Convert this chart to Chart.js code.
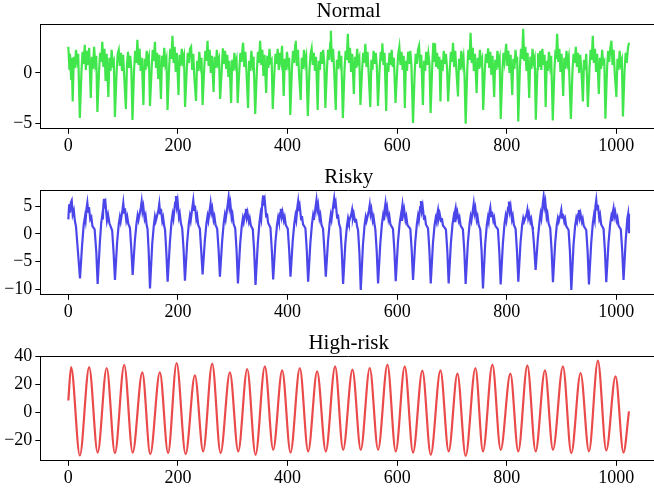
<!DOCTYPE html>
<html>
<head>
<meta charset="utf-8">
<script src="https://cdn.jsdelivr.net/npm/chart.js@4.4.1/dist/chart.umd.min.js"></script>
<style>
  html, body { margin: 0; padding: 0; background: #fff; width: 654px; height: 489px; overflow: hidden; position: relative; }
  canvas { position: absolute; left: 0; }
</style>
</head>
<body>
<canvas id="panelNormal" width="660" height="159" style="top:0px"></canvas>
<canvas id="panelRisky" width="660" height="159" style="top:166px"></canvas>
<canvas id="panelHigh" width="660" height="159" style="top:332px"></canvas>
<script>
// Sample index on x, signal amplitude on y, one series per panel.
const panelTitles = ['Normal', 'Risky', 'High-risk'];
const xTickValues = [0, 200, 400, 600, 800, 1000];
const normalYTicks = [-5, 0];
const riskyYTicks = [-10, -5, 0, 5];
const highRiskYTicks = [-20, 0, 20, 40];

const normalPoints = [
  [0,2.6],[2,0.4],[3,1.9],[5,-0.6],[6,1.5],[8,-2.85],[10,1.6],[12,0.5],[14,2.3],[16,1.2],[18,1.9],[21,-4.5],
  [24,0.2],[26,2.1],[28,0.9],[30,2.8],[32,0.3],[34,2.2],[36,0.8],[38,2.5],[41,-2.5],[43,1.6],[45,0.4],[47,2.6],[49,1.0],[51,1.7],[53,-3.9],
  [56,0.1],[58,2.0],[60,1.1],[62,3.1],[64,0.6],[66,2.4],[68,-0.8],[70,1.9],[73,-2.4],[75,1.5],[77,0.2],[79,2.3],[81,0.9],[83,1.2],[85,-4.4],
  [88,0.0],[90,1.9],[92,2.3],[94,0.7],[96,2.0],[98,0.2],[100,1.8],[102,-0.4],[105,-3.6],[107,0.9],[109,2.1],[111,0.5],[113,1.7],[115,0.3],[117,-4.7],
  [120,0.3],[122,2.2],[124,1.0],[126,3.3],[128,0.8],[130,2.4],[132,0.2],[134,1.5],[137,-3.2],[139,1.4],[141,0.3],[143,2.2],[145,1.1],[147,1.6],[149,-3.3],
  [152,0.4],[154,2.3],[156,1.2],[158,3.1],[160,0.5],[162,2.0],[164,-0.6],[166,1.8],[169,-2.6],[171,1.7],[173,0.6],[175,2.5],[177,0.9],[179,1.4],[181,-3.7],
  [184,0.6],[186,2.4],[188,1.4],[190,3.7],[192,1.0],[194,2.6],[196,0.1],[198,2.0],[201,-2.2],[203,1.8],[205,0.7],[207,2.4],[209,1.2],[211,1.7],[213,-3.4],
  [216,0.2],[218,2.0],[220,1.0],[222,2.4],[224,2.6],[226,0.3],[228,1.9],[230,-0.5],[233,-2.8],[235,1.2],[237,0.2],[239,2.1],[241,0.8],[243,1.5],[245,-3.2],
  [248,0.5],[250,2.2],[252,1.2],[254,3.2],[256,0.7],[258,2.3],[260,0.0],[262,1.7],[265,-1.9],[267,1.6],[269,0.5],[271,2.3],[273,1.0],[275,1.4],[277,-2.6],
  [280,0.4],[282,2.45],[284,0.9],[286,2.2],[288,0.4],[290,1.8],[292,-0.4],[294,1.2],[297,-3.0],[299,1.3],[301,0.2],[303,2.0],[305,0.8],[307,1.3],[309,-3.0],
  [312,0.3],[314,2.0],[316,1.1],[318,2.6],[319,3.0],[321,0.6],[323,2.1],[325,0.2],[328,-3.5],[330,1.2],[332,0.2],[334,2.2],[336,0.9],[338,1.6],[341,-4.1],
  [344,0.2],[346,2.1],[348,1.0],[350,3.2],[352,0.8],[354,2.3],[356,-0.3],[358,1.8],[361,-2.0],[363,1.7],[365,0.5],[367,2.4],[369,1.1],[371,1.3],[373,-3.6],
  [376,0.1],[378,1.9],[380,0.9],[382,2.4],[384,0.3],[386,2.0],[388,1.2],[390,2.7],[393,-2.3],[395,1.4],[397,0.3],[399,2.1],[401,0.9],[403,1.5],[405,-4.2],
  [408,0.4],[410,2.2],[412,1.0],[414,2.8],[415,3.2],[417,0.7],[419,2.3],[421,-0.2],[424,-2.7],[426,1.5],[428,0.4],[430,2.3],[432,1.0],[434,1.6],[437,-4.3],
  [440,0.3],[442,1.9],[444,2.45],[446,0.8],[448,2.0],[450,0.2],[452,1.6],[455,-3.7],[457,1.2],[459,0.3],[461,2.1],[463,0.9],[465,2.3],[467,1.0],[469,-3.5],
  [472,0.5],[474,2.3],[476,1.3],[478,3.0],[479,4.2],[481,1.1],[483,2.4],[485,0.3],[488,-3.7],[490,1.3],[492,0.4],[494,2.2],[496,1.0],[498,1.7],[501,-4.5],
  [504,0.4],[506,2.2],[508,1.3],[510,3.9],[512,1.0],[514,2.5],[516,0.1],[518,1.9],[521,-2.1],[523,1.6],[525,0.5],[527,2.4],[529,1.1],[531,1.5],[533,-3.2],
  [536,0.3],[538,2.0],[540,1.0],[542,2.9],[544,0.6],[546,2.1],[548,0.0],[551,-3.4],[553,1.3],[555,0.3],[557,2.2],[559,0.9],[561,2.0],[563,0.6],[565,-3.3],
  [568,0.4],[570,2.1],[572,1.2],[573,2.95],[575,0.8],[577,2.0],[580,-3.8],[582,1.0],[584,0.1],[586,2.0],[588,0.8],[590,2.3],[592,0.6],[594,1.5],[597,-3.0],
  [600,0.2],[602,1.9],[604,2.6],[606,0.8],[608,2.1],[610,0.3],[612,1.7],[614,-3.5],[616,1.2],[618,0.2],[620,2.1],[622,0.9],[624,2.2],[626,0.8],[629,-5.0],
  [632,0.1],[634,1.9],[636,0.9],[638,2.3],[640,2.7],[642,0.5],[644,1.8],[647,-3.2],[649,1.2],[651,0.2],[653,2.1],[655,0.8],[657,1.9],[659,0.9],[661,-4.0],
  [664,0.6],[666,3.0],[668,1.2],[669,2.95],[671,0.6],[673,2.0],[675,0.4],[677,1.6],[679,-2.85],[681,1.3],[683,0.2],[685,2.2],[687,0.9],[689,1.9],[691,0.5],[693,-2.85],
  [696,0.3],[698,2.1],[700,1.1],[702,3.0],[704,0.6],[706,2.2],[708,0.3],[711,-2.35],[713,1.4],[715,0.3],[717,2.2],[719,0.9],[721,1.6],[723,-0.4],[725,-5.07],
  [728,0.5],[730,2.3],[732,1.3],[734,4.0],[736,1.0],[738,2.5],[740,0.2],[742,1.9],[745,-2.0],[747,1.5],[749,0.4],[751,2.3],[753,1.0],[755,1.4],[757,-3.7],
  [760,0.3],[762,1.9],[764,1.0],[766,2.45],[768,0.5],[770,2.1],[772,-0.2],[774,1.7],[777,-2.4],[779,1.3],[781,0.3],[783,2.2],[785,1.0],[787,1.5],[789,-4.6],
  [792,0.2],[794,2.0],[796,1.1],[799,2.9],[801,0.7],[803,2.2],[805,0.0],[807,1.8],[810,-2.2],[812,1.4],[814,0.4],[816,2.3],[818,1.0],[819,1.6],[821,-4.84],
  [824,0.6],[826,2.4],[828,1.4],[830,4.4],[832,1.2],[834,2.6],[836,0.2],[838,2.0],[841,-2.5],[843,1.6],[845,0.4],[847,2.4],[849,1.1],[851,1.5],[853,-4.67],
  [856,0.4],[857,1.95],[859,0.6],[861,2.2],[863,0.3],[865,2.4],[867,0.8],[869,1.8],[871,-3.4],[873,1.2],[875,0.2],[877,2.1],[879,0.8],[881,1.7],[884,-4.74],
  [887,0.4],[889,2.3],[890,1.4],[892,3.9],[894,1.1],[896,2.4],[898,0.1],[900,1.9],[903,-2.3],[905,1.5],[907,0.4],[909,2.2],[911,1.0],[913,1.6],[917,-4.6],
  [920,0.3],[922,1.9],[924,1.0],[926,2.6],[928,0.6],[930,2.0],[932,0.0],[934,1.8],[936,0.5],[939,-2.85],[941,1.3],[943,0.3],[945,1.9],[948,-3.4],
  [951,0.5],[953,2.3],[955,1.3],[957,3.7],[959,1.0],[961,2.4],[963,0.1],[965,1.9],[968,-2.1],[970,1.5],[972,0.4],[974,2.3],[976,1.0],[978,1.2],[980,-4.57],
  [983,0.4],[985,2.2],[987,1.1],[989,2.5],[991,3.2],[993,0.8],[995,2.3],[997,0.0],[1000,-2.4],[1002,1.4],[1004,0.3],[1006,2.2],[1008,0.9],[1010,1.3],[1012,-4.34],
  [1015,0.3],[1017,2.0],[1019,1.0],[1021,2.4],[1023,3.0]
];

const riskyPoints = [
  [0,2.6],[1.5,5.3],[3,3.8],[4.5,5.6],[6.2,6.0],[8,3.5],[10,4.2],[12,2.3],[14,1.3],[17,-2.5],
  [21.3,-8.0],[25,-2.2],[28,1.6],[30.4,3.1],[31.5,2.4],[33.2,4.6],[34.7,5.6],[36.2,4.0],[37.7,4.8],[40,2.6],[42,3.0],[44,1.4],[48,0.8],[51,-3.2],
  [53.5,-9.0],[57.5,-1.6],[60,2.0],[62,3.4],[63,2.6],[64,5.2],[65.1,6.3],[66.6,4.6],[68,5.3],[70.5,2.4],[72.5,3.4],[75,1.9],[80,0.6],[82.6,-3.4],
  [85.1,-8.3],[89,-1.5],[92,1.7],[94,3.0],[95.5,2.2],[98.8,4.3],[100.3,5.5],[101.8,3.8],[103.3,4.6],[105.8,2.4],[107.5,3.1],[109.5,1.8],[112.4,1.1],[114.9,-2.6],
  [117.4,-7.4],[121.4,-1.2],[124.4,1.9],[126.4,3.3],[128,2.5],[132.3,4.7],[133.8,5.8],[135.3,4.1],[136.8,4.9],[139.3,2.7],[141,3.3],[143,1.5],[144.5,0.9],[146.5,-2.9],
  [149,-9.8],[153,-1.9],[156,1.5],[158,3.1],[159.5,2.3],[164.5,4.3],[166,5.4],[167.5,3.7],[169,4.5],[171.5,2.3],[173,2.9],[175,1.4],[176.5,0.7],[178.7,-3.1],
  [181.2,-8.6],[185.2,-1.7],[188.2,2.1],[190.2,3.5],[191.7,2.7],[194.9,5.6],[196.4,6.8],[197.9,5.0],[199.4,5.9],[201.9,3.0],[203.4,3.6],[205.4,1.9],[207.8,1.0],[210.3,-2.8],
  [212.8,-8.4],[216.8,-1.6],[219.8,1.8],[221.8,3.2],[223.3,2.4],[226.5,4.9],[228,6.0],[229.5,4.3],[231,5.1],[233.5,2.7],[235,3.3],[237,1.6],[240,0.9],[242.5,-3.0],
  [245,-7.3],[249,-1.3],[252,1.9],[254,3.2],[255.5,2.4],[258.1,4.4],[259.6,5.5],[261.1,3.9],[262.6,4.6],[265.1,2.5],[266.6,3.1],[268.6,1.6],[271.6,0.9],[274.1,-2.7],
  [276.6,-7.7],[280.6,-1.4],[283.6,2.0],[285.6,3.4],[287.1,2.6],[291,5.4],[292.5,6.6],[294,4.8],[295.5,5.6],[298,2.9],[299.5,3.5],[301.5,1.8],[304.5,1.0],[307,-3.0],
  [309.5,-8.9],[313.5,-1.8],[316.5,1.5],[318.5,2.8],[320,2.1],[322.5,3.6],[324,4.5],[325.5,3.0],[327,3.8],[329.5,2.2],[331,2.8],[333,1.5],[336.6,0.8],[339.1,-3.1],
  [341.6,-9.2],[345.6,-1.9],[348.6,1.9],[350.6,3.5],[352,2.7],[354,5.6],[355.5,6.9],[357,5.1],[358.5,5.9],[361,3.1],[362.5,3.7],[364.5,2.0],[368.8,1.1],[371.3,-2.9],
  [373.8,-8.2],[377.8,-1.6],[380.8,1.6],[382.8,2.9],[384.3,2.2],[386.3,3.7],[387.8,4.5],[389.3,3.1],[390.8,3.9],[393.3,2.4],[394.8,3.0],[396.8,1.6],[400.4,0.9],[402.9,-2.8],
  [405.4,-7.7],[409.4,-1.3],[412.4,1.9],[414.4,3.3],[415.9,2.5],[417.8,4.7],[419.3,5.8],[420.8,4.1],[422.3,4.9],[424.8,2.6],[426.3,3.2],[428.3,1.7],[432.6,1.0],[435.1,-2.9],
  [437.6,-8.6],[441.6,-1.7],[444.6,1.8],[446.6,3.3],[448.1,2.5],[451.3,5.0],[452.8,6.1],[454.3,4.4],[455.8,5.2],[458.3,2.8],[459.8,3.4],[461.8,1.7],[464.8,0.9],[467.3,-3.0],
  [469.8,-7.7],[473.8,-1.4],[476.8,1.9],[478.8,3.4],[480.3,2.6],[483.5,5.2],[485,6.3],[486.5,4.6],[488,5.4],[490.5,2.9],[492,3.5],[494,1.8],[496.4,1.0],[498.9,-3.0],
  [501.4,-9.0],[505.4,-1.8],[508.4,1.5],[510.4,2.8],[511.9,2.1],[516.3,3.5],[517.8,4.3],[519.3,2.9],[520.8,3.6],[523.3,2.2],[524.8,2.7],[526.8,1.4],[528.6,0.7],[531.1,-3.3],
  [533.6,-10.1],[537.6,-2.0],[540.6,1.6],[542.6,3.0],[544.1,2.3],[548.5,4.2],[550,5.2],[551.5,3.6],[553,4.4],[555.5,2.4],[557,3.0],[559,1.5],[560.2,0.8],[562.7,-3.1],
  [565.2,-8.9],[569.2,-1.8],[572.2,1.8],[574.2,3.2],[575.7,2.4],[577.2,4.4],[578.7,5.5],[580.2,3.9],[581.7,4.7],[584.2,2.6],[585.7,3.2],[587.7,1.7],[592.4,0.9],[594.9,-2.9],
  [597.4,-8.5],[601.4,-1.6],[604.4,1.8],[606.4,3.1],[607.5,2.5],[608.4,4.2],[609.7,5.2],[611.2,3.6],[612.7,4.4],[615.2,2.5],[616.7,3.1],[618.7,1.6],[624,0.9],[626.5,-2.8],
  [629,-8.3],[633,-1.5],[636,1.8],[638,3.2],[639.5,2.4],[642,4.8],[643.5,5.9],[645,4.2],[646.5,5.0],[649,2.7],[650.5,3.3],[652.5,1.7],[656.3,1.0],[658.8,-2.9],
  [661.3,-8.9],[665.3,-1.7],[668.3,1.6],[670.3,2.8],[671.8,2.2],[673.1,3.5],[674.6,4.3],[676.1,2.9],[677.6,3.6],[680.1,2.3],[681.6,2.8],[683.6,1.5],[689,0.8],[691.5,-3.0],
  [694,-8.9],[698,-1.7],[701,1.7],[703,3.0],[704.3,2.3],[705.3,3.8],[706.8,4.6],[708.3,3.2],[709.8,3.9],[712.3,2.4],[713.8,2.9],[715.8,1.5],[720,0.8],[722.5,-3.0],
  [725,-9.0],[729,-1.7],[732,1.7],[734,3.1],[735.5,2.4],[738.2,4.3],[739.7,5.4],[741.2,3.8],[742.7,4.6],[745.2,2.5],[746.7,3.1],[748.7,1.6],[751.6,0.8],[754.1,-3.1],
  [756.6,-9.8],[760.6,-1.9],[763.6,1.6],[765.6,2.9],[767,2.2],[768.5,3.9],[770,4.7],[771.5,3.2],[773,4.0],[775.5,2.4],[777,2.9],[779,1.5],[783.9,0.8],[786.4,-3.2],
  [788.9,-9.1],[792.9,-1.8],[795.9,1.8],[797.9,3.2],[799.4,2.4],[802.5,4.7],[804,5.8],[805.5,4.1],[807,4.9],[809.5,2.6],[811,3.2],[813,1.6],[816.1,0.9],[818.6,-3.0],
  [821.1,-8.6],[825.1,-1.6],[828.1,1.6],[830.1,2.8],[831.6,2.2],[836.1,3.5],[837.6,4.3],[839.1,2.9],[840.6,3.6],[843.1,2.2],[844.6,2.7],[846.6,1.3],[847.7,0.6],[850.2,-2.6],
  [852.7,-6.5],[856.7,-0.9],[859.7,2.1],[861.7,3.6],[863.2,2.8],[865.8,5.5],[867.3,6.7],[868.8,5.0],[870.3,5.8],[872.8,3.0],[874.3,3.6],[876.3,1.9],[879.3,1.0],[881.8,-2.9],
  [884.3,-8.7],[888.3,-1.7],[891.3,1.6],[893.3,2.8],[894.8,2.2],[898,3.5],[899.5,4.3],[901,2.9],[902.5,3.6],[905,2.2],[906.5,2.7],[908.5,1.4],[912.8,0.7],[915.3,-3.2],
  [917.8,-10.1],[921.8,-2.0],[924.8,1.5],[926.8,2.8],[928.3,2.2],[930.1,3.5],[931.6,4.3],[933.1,2.9],[934.6,3.6],[937.1,2.2],[938.6,2.7],[940.6,1.4],[945,0.7],[947.5,-3.1],
  [950,-9.1],[954,-1.8],[957,1.9],[959,3.3],[960.5,2.5],[961.8,5.0],[963.3,6.1],[964.8,4.4],[966.3,5.2],[968.8,2.8],[970.3,3.4],[972.3,1.7],[976.6,0.9],[979.1,-3.0],
  [981.6,-8.7],[985.6,-1.7],[988.6,1.7],[990.6,3.0],[992,2.3],[993.4,3.8],[994.9,4.6],[996.4,3.2],[997.9,3.9],[1000.4,2.4],[1001.9,2.9],[1003.9,1.5],[1008.1,0.8],[1010.6,-2.9],
  [1013.1,-8.3],[1017,-1.2],[1020,2.8],[1021.5,3.6],[1023,0.1]
];

// Crests and troughs of the high-risk oscillation.
const highRiskPoints = [
  [0,8.6],[5,32.6],[21,-30.9],[38,32.6],[53.5,-28.8],[70,31.9],[85,-29.2],[102,34.1],[117.4,-28.8],
  [135,28.8],[149.5,-30.0],[167,28.8],[182,-29.2],[197.6,35.5],[214,-30.0],[231,26.6],[246,-28.0],
  [262.5,35.0],[277.8,-29.2],[294.8,28.8],[310,-28.0],[326.4,31.2],[341.6,-30.4],[358.6,33.1],[373.8,-26.8],
  [390.2,30.2],[405.4,-28.8],[422.4,31.9],[437.6,-28.0],[454,29.5],[469.8,-28.0],[486.8,33.1],[501.4,-26.8],
  [518.5,30.7],[533.6,-26.8],[550,31.9],[565.2,-26.8],[582.3,34.3],[597.4,-28.0],[613.9,33.1],[629,-28.8],
  [646,30.0],[661.3,-30.4],[679,30.2],[694,-28.0],[710,27.8],[725,-31.2],[742.8,31.9],[756.6,-28.0],
  [773.8,34.3],[788.9,-26.8],[806.6,27.8],[821,-28.0],[837.6,33.8],[852.7,-28.0],[869.7,30.2],[884.3,-26.8],
  [902.5,33.1],[917.8,-29.2],[934.7,28.3],[950,-28.0],[966.3,37.2],[981.6,-27.3],[998.5,25.9],[1013,-28.8],
  [1023,0.7]
];

const SERIF = "'Liberation Serif', 'Times New Roman', serif";
const INK = '#000';

function formatTick(v) {
  return v < 0 ? '\u2212' + Math.abs(v) : String(v);
}

// Upper and right spines of the axes box.
const boxFrame = {
  id: 'boxFrame',
  afterDraw(chart) {
    const { ctx, chartArea: a } = chart;
    ctx.save();
    ctx.strokeStyle = INK;
    ctx.lineWidth = 1;
    ctx.beginPath();
    const top = Math.round(a.top) + 0.5;
    ctx.moveTo(a.left, top);
    ctx.lineTo(a.right, top);
    ctx.lineTo(a.right, a.bottom);
    ctx.stroke();
    ctx.restore();
  }
};

function axisStyle() {
  return {
    grid: { drawOnChartArea: false, drawTicks: true, tickLength: 5, tickColor: INK, tickWidth: 1 },
    border: { display: true, color: INK, width: 1 }
  };
}

function makePanel(canvasId, title, points, color, yMin, yMax, yTicks, smooth) {
  const ds = {
    data: points.map(([x, y]) => ({ x, y })),
    borderColor: color,
    borderWidth: 2.2,
    pointRadius: 0,
    fill: false,
    tension: 0
  };
  if (smooth) ds.cubicInterpolationMode = 'monotone';

  return new Chart(document.getElementById(canvasId), {
    type: 'line',
    data: { datasets: [ds] },
    plugins: [boxFrame],
    options: {
      responsive: false,
      animation: false,
      devicePixelRatio: 1,
      layout: { padding: { left: 0, right: 3, top: 0, bottom: 0 } },
      plugins: {
        legend: { display: false },
        tooltip: { enabled: false },
        title: {
          display: true,
          text: title,
          fullSize: false,
          color: INK,
          font: { family: SERIF, size: 21, weight: 'normal', lineHeight: 1 },
          padding: { top: 0.5, bottom: 2.8 }
        }
      },
      scales: {
        x: Object.assign(axisStyle(), {
          type: 'linear',
          min: -51.15,
          max: 1074.15,
          afterBuildTicks: s => { s.ticks = xTickValues.map(v => ({ value: v })); },
          afterFit: s => { s.height = 30.2; },
          ticks: { color: INK, font: { family: SERIF, size: 18 }, padding: 2, maxRotation: 0, autoSkip: false, callback: formatTick }
        }),
        y: Object.assign(axisStyle(), {
          type: 'linear',
          min: yMin,
          max: yMax,
          afterBuildTicks: s => { s.ticks = yTicks.map(v => ({ value: v })); },
          afterFit: s => { s.width = 40.3; },
          ticks: { color: INK, font: { family: SERIF, size: 18 }, padding: 3, autoSkip: false, callback: formatTick }
        })
      }
    }
  });
}

makePanel('panelNormal', panelTitles[0], normalPoints, '#41e64c', -5.57, 4.84, normalYTicks, false);
makePanel('panelRisky', panelTitles[1], riskyPoints, '#4b46ea', -10.95, 7.83, riskyYTicks, false);
makePanel('panelHigh', panelTitles[2], highRiskPoints, '#ea4a4a', -34.7, 40.3, highRiskYTicks, true);
</script>
</body>
</html>
